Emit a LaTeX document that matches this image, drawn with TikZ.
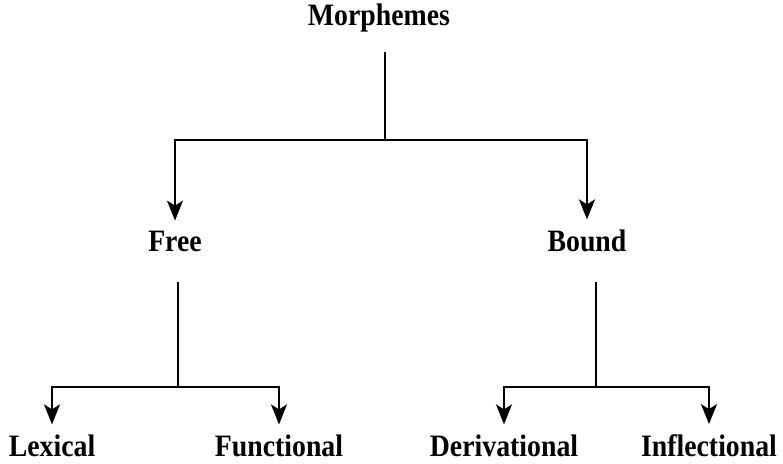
\documentclass[tikz,border=0pt]{standalone}
\usepackage{fontspec,graphicx}
\setmainfont{Liberation Serif}
\usetikzlibrary{arrows.meta}
\tikzstyle{label}=[font=\fontsize{13.9}{17}\selectfont\bfseries, anchor=base, inner xsep=0pt, inner ysep=5pt]
\tikzstyle{branch}=[draw, line width=1pt, -{Stealth[length=10pt, width=8pt, inset=2.5pt]}]
\newcommand{\tall}[1]{\scalebox{1}[1.12]{#1}}
\newcommand{\lbl}{\node[label]}

\begin{document}
\begin{tikzpicture}[x=0.5pt, y=-0.5pt, line width=1pt]
\useasboundingbox (0,0) rectangle (783,464);
\lbl (morph) at (379,26) {\tall{Morphemes}};
\lbl (free) at (175,252) {\tall{Free}};
\lbl (bound) at (587,252) {\tall{Bound}};
\lbl (lex) at (52,457) {\tall{Lexical}};
\lbl (func) at (279,457) {\tall{Functional}};
\lbl (deriv) at (504,457) {\tall{Derivational}};
\lbl (infl) at (709,457) {\tall{Inflectional}};
\coordinate (mtop) at (385,52);
\coordinate (mj) at (385,140);
\coordinate (ftop) at (178,282);
\coordinate (fj) at (178,387);
\coordinate (btop) at (596,282);
\coordinate (bj) at (596,387);
\draw (mtop) -- (mj);
\draw (ftop) -- (fj);
\draw (btop) -- (bj);
\path[branch] (mj) -| (free);
\path[branch] (mj) -| (bound);
\path[branch] (fj) -| (lex);
\path[branch] (fj) -| (func);
\path[branch] (bj) -| (deriv);
\path[branch] (bj) -| (infl);
\end{tikzpicture}
\end{document}
